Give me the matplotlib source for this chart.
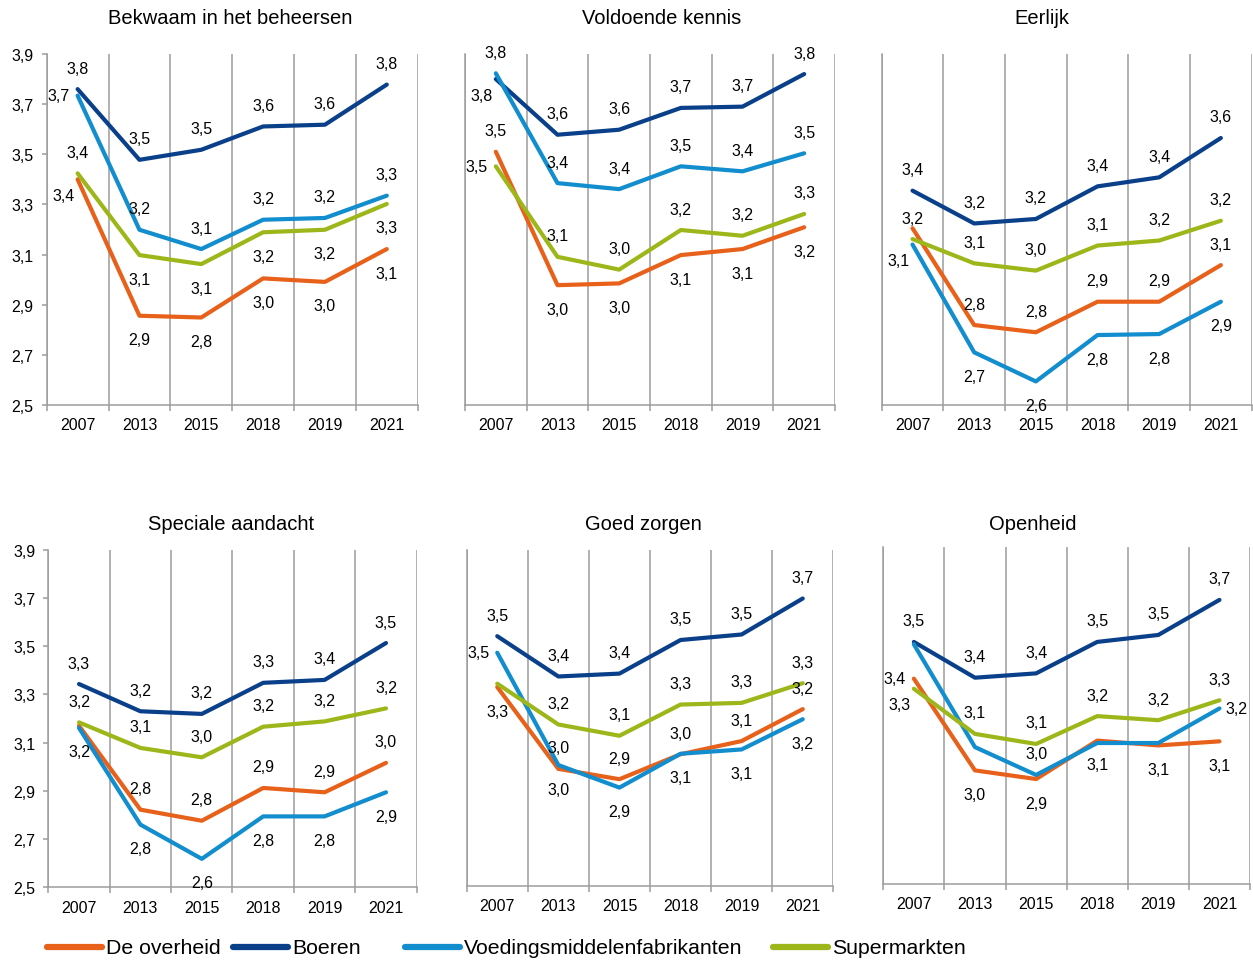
import numpy as np
import matplotlib
matplotlib.use("Agg")
import matplotlib.pyplot as plt
from matplotlib.lines import Line2D

plt.rcParams['font.family'] = ['Liberation Sans', 'DejaVu Sans']

# ---------------------------------------------------------------- data
years = ["2007", "2013", "2015", "2018", "2019", "2021"]
series_names = ["De overheid", "Boeren", "Voedingsmiddelenfabrikanten", "Supermarkten"]

titles = ["Bekwaam in het beheersen", "Voldoende kennis", "Eerlijk",
          "Speciale aandacht", "Goed zorgen", "Openheid"]

# Bekwaam in het beheersen
bekwaam_overheid = [3.40, 2.856, 2.849, 3.005, 2.991, 3.122]
bekwaam_boeren = [3.76, 3.478, 3.518, 3.611, 3.618, 3.778]
bekwaam_voeding = [3.734, 3.199, 3.122, 3.239, 3.246, 3.335]
bekwaam_super = [3.424, 3.098, 3.062, 3.189, 3.199, 3.302]

# Voldoende kennis
kennis_overheid = [3.510, 2.978, 2.985, 3.098, 3.122, 3.209]
kennis_boeren = [3.80, 3.578, 3.598, 3.685, 3.690, 3.820]
kennis_voeding = [3.823, 3.385, 3.361, 3.452, 3.432, 3.504]
kennis_super = [3.452, 3.091, 3.040, 3.198, 3.175, 3.262]

# Eerlijk
eerlijk_overheid = [3.205, 2.819, 2.790, 2.912, 2.912, 3.058]
eerlijk_boeren = [3.355, 3.224, 3.242, 3.372, 3.408, 3.565]
eerlijk_voeding = [3.140, 2.710, 2.594, 2.779, 2.783, 2.912]
eerlijk_super = [3.162, 3.065, 3.036, 3.136, 3.156, 3.235]

# Speciale aandacht
aandacht_overheid = [3.170, 2.822, 2.776, 2.912, 2.894, 3.016]
aandacht_boeren = [3.343, 3.230, 3.219, 3.348, 3.360, 3.513]
aandacht_voeding = [3.161, 2.760, 2.618, 2.794, 2.794, 2.894]
aandacht_super = [3.184, 3.078, 3.039, 3.166, 3.188, 3.242]

# Goed zorgen
zorgen_overheid = [3.329, 2.988, 2.945, 3.049, 3.104, 3.237]
zorgen_boeren = [3.541, 3.373, 3.385, 3.525, 3.548, 3.698]
zorgen_voeding = [3.472, 3.004, 2.910, 3.051, 3.069, 3.195]
zorgen_super = [3.343, 3.173, 3.126, 3.256, 3.263, 3.345]

# Openheid
openheid_overheid = [3.353, 2.971, 2.935, 3.095, 3.075, 3.092]
openheid_boeren = [3.506, 3.357, 3.375, 3.506, 3.535, 3.681]
openheid_voeding = [3.496, 3.068, 2.952, 3.085, 3.085, 3.229]
openheid_super = [3.311, 3.123, 3.081, 3.197, 3.180, 3.263]

panels = [
    [bekwaam_overheid, bekwaam_boeren, bekwaam_voeding, bekwaam_super],
    [kennis_overheid, kennis_boeren, kennis_voeding, kennis_super],
    [eerlijk_overheid, eerlijk_boeren, eerlijk_voeding, eerlijk_super],
    [aandacht_overheid, aandacht_boeren, aandacht_voeding, aandacht_super],
    [zorgen_overheid, zorgen_boeren, zorgen_voeding, zorgen_super],
    [openheid_overheid, openheid_boeren, openheid_voeding, openheid_super],
]

y_ticks = [2.5, 2.7, 2.9, 3.1, 3.3, 3.5, 3.7, 3.9]

# ---------------------------------------------------------------- style
colors = ["#E8611A", "#0A3F8A", "#128DCD", "#9DB71A"]
grid_color = "#9C9C9C"
small_font = 11.5

# data-label placement per panel and series: a=above, b=below, l=left,
# L=left-below, r=right, -=no label
label_sides = [
    ["Lbbbbb", "aaaaaa", "laaaaa", "abbbbb"],
    ["abbbbb", "Laaaaa", "aaaaaa", "laaaaa"],
    ["-aaaaa", "aaaaaa", "Lbbbbb", "aaaaaa"],
    ["-aaaaa", "aaaaaa", "bbbbbb", "aaaaaa"],
    ["baaaaa", "aaaaaa", "lbbbbb", "-aaaaa"],
    ["lbbbbb", "aaaaaa", "--a--r", "Laaaaa"],
]
offsets = {"a": (0, 21), "b": (0, -24), "l": (-19, 0), "L": (-14, -16), "r": (17, 0)}

# axes boxes in pixels: x0, y_top, x1, y_bottom
boxes = [
    (46.7, 55, 417.7, 406),
    (465, 55, 835, 406),
    (881.7, 55, 1251.7, 406),
    (48.3, 550.7, 416.7, 888.3),
    (466.7, 551, 833.3, 887),
    (883.3, 548.3, 1250, 884.5),
]
title_pos = [(230, 18), (662, 18), (1042, 18), (231, 525), (643, 525), (1033, 525)]

W, H = 1253, 962
fig = plt.figure(figsize=(W / 100, H / 100), dpi=100)


def fmt(v):
    return f"{v:.1f}".replace(".", ",")


x = np.arange(len(years))
for p, (values, sides, box) in enumerate(zip(panels, label_sides, boxes)):
    x0, yt, x1, yb = box
    ax = fig.add_axes([x0 / W, 1 - yb / H, (x1 - x0) / W, (yb - yt) / H])
    ax.set_xlim(-0.5, len(years) - 0.5)
    ax.set_ylim(2.5, 3.9)
    for s in ("top", "right"):
        ax.spines[s].set_visible(False)
    for s in ("left", "bottom"):
        ax.spines[s].set_color(grid_color)
        ax.spines[s].set_linewidth(1.1)

    ax.set_xticks(x)
    ax.set_xticklabels(years, fontsize=small_font)
    ax.set_xticks(np.arange(-0.5, len(years), 1), minor=True)
    ax.tick_params(axis="x", which="major", length=0, pad=9)
    ax.tick_params(axis="x", which="minor", length=4, width=1.1, color=grid_color)
    ax.grid(which="minor", axis="x", color=grid_color, linewidth=1.1)
    ax.set_axisbelow(True)

    ax.set_yticks(y_ticks)
    if p % 3 == 0:
        ax.set_yticklabels([fmt(t) for t in y_ticks], fontsize=small_font)
        ax.tick_params(axis="y", length=3.5, width=1.1, color=grid_color, pad=6)
    else:
        ax.tick_params(axis="y", length=0, labelleft=False)

    for vals, side, col in zip(values, sides, colors):
        ax.plot(x, vals, color=col, linewidth=3.0, solid_joinstyle="round",
                solid_capstyle="round", zorder=3, clip_on=False)
        for i, (v, sd) in enumerate(zip(vals, side)):
            if sd == "-":
                continue
            dx, dy = offsets[sd]
            ax.annotate(fmt(v), xy=(i, v), xytext=(dx, dy), textcoords="offset pixels",
                        ha="center", va="center", fontsize=small_font, color="black",
                        zorder=4)

    tx, ty = title_pos[p]
    fig.text(tx / W, 1 - ty / H, titles[p], ha="center", va="center", fontsize=14.5)

# legend row
legend_starts = [47, 233, 405, 773]
ly = 948
for name, col, sx in zip(series_names, colors, legend_starts):
    fig.add_artist(Line2D([sx / W, (sx + 55) / W], [1 - ly / H, 1 - ly / H],
                          color=col, linewidth=4.5, solid_capstyle="round"))
    fig.text((sx + 59) / W, 1 - (ly + 1) / H, name, ha="left", va="center", fontsize=15.3)

fig.savefig("out.png", dpi=100)
